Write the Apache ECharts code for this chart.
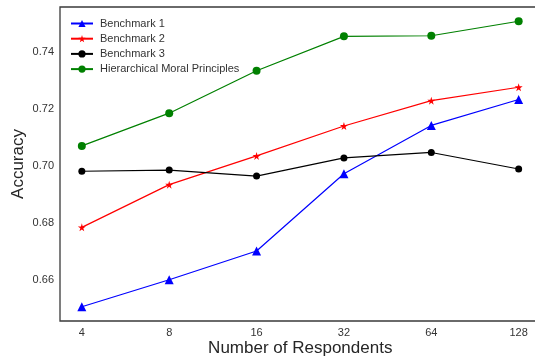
<!DOCTYPE html>
<html>
<head>
<meta charset="utf-8">
<script src="https://cdn.jsdelivr.net/npm/echarts@6/dist/echarts.min.js"></script>
<style>html,body{margin:0;padding:0;background:#fff}#c{width:535px;height:360px}</style>
</head>
<body>
<div id="c"></div>
<script>
const respondents = ['4', '8', '16', '32', '64', '128'];
const benchmark1 = [0.6505, 0.6600, 0.6701, 0.6972, 0.7142, 0.7233];
const benchmark2 = [0.6784, 0.6934, 0.7035, 0.7140, 0.7229, 0.7276];
const benchmark3 = [0.6981, 0.6985, 0.6964, 0.7028, 0.7047, 0.6989];
const hierarchical = [0.7070, 0.7185, 0.7334, 0.7455, 0.7457, 0.7508];
const yTicks = [0.66, 0.68, 0.70, 0.72, 0.74];

const FONT = '"Liberation Sans", Arial, sans-serif';
const toPts = arr => arr.map((v, i) => [i, v]);

function mk(name, data, color, symbol, size) {
  return {
    name, type: 'line', data: toPts(data), symbol, symbolSize: size,
    lineStyle: { color, width: 1.2 }, itemStyle: { color },
    emphasis: { disabled: true }, animation: false
  };
}

const chart = echarts.init(document.getElementById('c'), null, { renderer: 'canvas' });
chart.setOption({
  animation: false,
  grid: { left: 60, right: -5.5, top: 7, bottom: 39, show: true, borderColor: '#3a3a3a', borderWidth: 1.3,
          containLabel: false, outerBoundsMode: 'none' },
  legend: {
    orient: 'vertical', left: 70, top: 18, padding: 0, itemWidth: 22, itemHeight: 9, itemGap: 4.2,
    textStyle: { fontFamily: FONT, fontSize: 11, color: '#333', padding: [0, 0, 0, 2] },
    data: ['Benchmark 1', 'Benchmark 2', 'Benchmark 3', 'Hierarchical Moral Principles']
  },
  xAxis: {
    type: 'value', min: -0.25, max: 5.25,
    name: 'Number of Respondents', nameLocation: 'middle', nameGap: 19, nameMoveOverlap: false,
    nameTextStyle: { fontFamily: FONT, fontSize: 17, color: '#262626' },
    axisLine: { show: false }, axisTick: { show: false }, splitLine: { show: false },
    axisLabel: { customValues: [0, 1, 2, 3, 4, 5], formatter: v => respondents[Math.round(v)],
      fontFamily: FONT, fontSize: 11, color: '#333', margin: 6 }
  },
  yAxis: {
    type: 'value', min: 0.6455, max: 0.7558,
    name: 'Accuracy', nameLocation: 'middle', nameGap: 33, nameMoveOverlap: false,
    nameTextStyle: { fontFamily: FONT, fontSize: 17, color: '#262626' },
    axisLine: { show: false }, axisTick: { show: false }, splitLine: { show: false },
    axisLabel: { customValues: yTicks, formatter: v => v.toFixed(2),
      fontFamily: FONT, fontSize: 11, color: '#333', margin: 6 }
  },
  series: [
    mk('Benchmark 1', benchmark1, '#0000ff', 'triangle', 9),
    mk('Benchmark 2', benchmark2, '#ff0000', 'path://M50,0 L61,35 L98,35 L68,57 L79,91 L50,70 L21,91 L32,57 L2,35 L39,35 Z', 8),
    mk('Benchmark 3', benchmark3, '#000000', 'circle', 7),
    mk('Hierarchical Moral Principles', hierarchical, '#008000', 'circle', 8)
  ]
});
</script>
</body>
</html>
